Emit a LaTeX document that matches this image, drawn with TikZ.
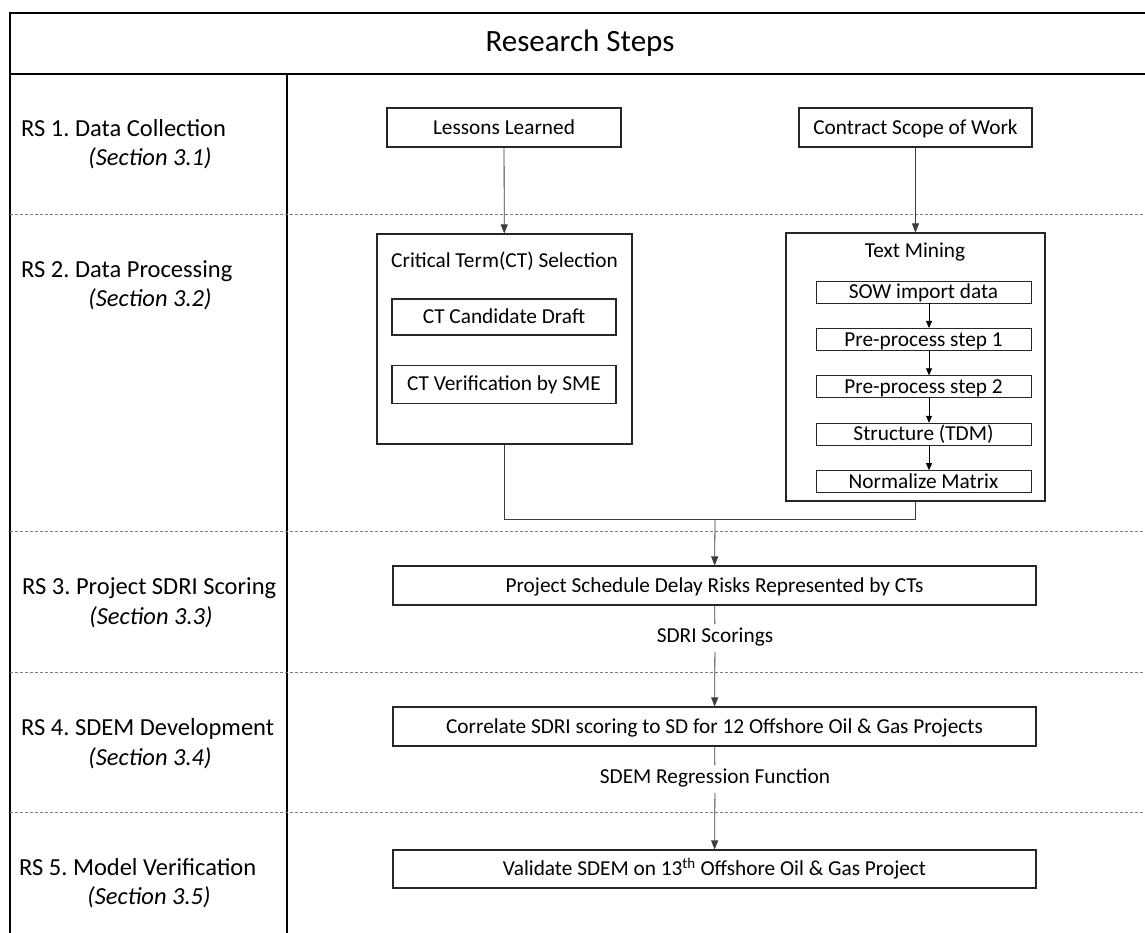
\documentclass[tikz,border=0pt]{standalone}
\usepackage{fontspec}
\setmainfont{Carlito}
\frenchspacing
\usetikzlibrary{arrows.meta, positioning}
\definecolor{linegray}{RGB}{60,60,60}
\definecolor{dashgray}{RGB}{125,125,125}

\begin{document}
\begin{tikzpicture}[
  x=1pt, y=-1pt,
  box/.style={rectangle, draw=black!85, line width=1.1pt, minimum height=39pt, inner sep=0pt, text height=13.5pt, text depth=0pt, font=\fontsize{21.3}{25}\selectfont},
  group/.style={rectangle, draw=black!85, line width=1.1pt, inner sep=0pt},
  subbox/.style={box, line width=0.9pt, minimum width=215pt, minimum height=22pt},
  lbl/.style={inner sep=0pt, font=\fontsize{24.5}{29}\selectfont},
  boxtitle/.style={inner sep=0pt, font=\fontsize{21.3}{25}\selectfont},
  flowlbl/.style={inner sep=5pt, text height=13.5pt, text depth=4pt, font=\fontsize{21.3}{25}\selectfont},
  arrow/.style={-{Triangle[length=9pt, width=7pt]}, line width=0.8pt, linegray},
  smallarrow/.style={-{Triangle[length=7pt, width=6pt]}, line width=0.7pt, black},
  link/.style={line width=0.8pt, linegray},
  rowsep/.style={dashgray, line width=0.7pt, dash pattern=on 3pt off 2pt},
]
\clip (0,0) rectangle (1145,933);

% table frame
\draw[line width=1.6pt] (10,1000) -- (10,13) -- (1200,13);
\draw[line width=1.6pt] (10,74) -- (1200,74);
\draw[line width=1.2pt] (287,74) -- (287,1000);
\foreach \y in {214,531,672,812}
  \draw[rowsep] (10,\y) -- (1145,\y);

\node[inner sep=0pt, font=\fontsize{31}{36}\selectfont, anchor=base] (title) at (580,52) {Research Steps};

% research steps column
\node[lbl, anchor=base west] (rs1) at (21,137) {RS 1. Data Collection};
\node[lbl, anchor=base] (sec1) at (150,166) {\textit{(Section 3.1)}};
\node[lbl, anchor=base west] (rs2) at (21,277) {RS 2. Data Processing};
\node[lbl, anchor=base] (sec2) at (150,306) {\textit{(Section 3.2)}};
\node[lbl, anchor=base west] (rs3) at (22,594) {RS 3. Project SDRI Scoring};
\node[lbl, anchor=base] (sec3) at (151,624) {\textit{(Section 3.3)}};
\node[lbl, anchor=base west] (rs4) at (21,735) {RS 4. SDEM Development};
\node[lbl, anchor=base] (sec4) at (150,765) {\textit{(Section 3.4)}};
\node[lbl, anchor=base west] (rs5) at (19,875) {RS 5. Model Verification};
\node[lbl, anchor=base] (sec5) at (149,904) {\textit{(Section 3.5)}};

% RS 1
\node[box, minimum width=234pt] (lessons) at (504,127.5) {Lessons Learned};
\node[box, minimum width=233pt] (scope) at (915.5,127.5) {Contract Scope of Work};

% RS 2
\node[group, minimum width=255pt, minimum height=210pt] (ctsel) at (504.5,339) {};
\node[boxtitle, anchor=base] (cttitle) at (504.5,268) {Critical Term(CT) Selection};
\node[box, minimum width=224pt, minimum height=36pt] (ctdraft) at (504,317) {CT Candidate Draft};
\node[box, minimum width=224pt, minimum height=38pt, below=29pt of ctdraft] (ctverif) {CT Verification by SME};

\node[group, minimum width=259pt, minimum height=268pt] (tmine) at (915.5,367) {};
\node[boxtitle, anchor=base] (tmtitle) at (915,258) {Text Mining};
\node[subbox] (sow) at (923.5,292) {SOW import data};
\node[subbox, below=24.5pt of sow] (pre1) {Pre-process step 1};
\node[subbox, below=24.5pt of pre1] (pre2) {Pre-process step 2};
\node[subbox, below=24.5pt of pre2] (tdm) {Structure (TDM)};
\node[subbox, below=24.5pt of tdm] (norm) {Normalize Matrix};

% RS 3 - RS 5
\node[box, minimum width=643pt] (risks) at (714.5,585.5) {Project Schedule Delay Risks Represented by CTs};
\node[flowlbl] (scoring) at (715,638) {SDRI Scorings};
\node[box, minimum width=643pt] (correl) at (714.5,726.5) {Correlate SDRI scoring to SD for 12 Offshore Oil \& Gas Projects};
\node[flowlbl] (regfun) at (715,779) {SDEM Regression Function};
\node[box, minimum width=643pt, minimum height=38pt] (valid) at (714.5,869) {Validate SDEM on 13\textsuperscript{th} Offshore Oil \& Gas Project};

\coordinate (merge) at (715,519);

\draw[arrow] (lessons) -- (ctsel); \draw[arrow] (scope) -- (tmine);
\draw[smallarrow] ([xshift=5.5pt]sow.south) -- ([xshift=5.5pt]pre1.north);
\draw[smallarrow] ([xshift=5.5pt]pre1.south) -- ([xshift=5.5pt]pre2.north);
\draw[smallarrow] ([xshift=5.5pt]pre2.south) -- ([xshift=5.5pt]tdm.north);
\draw[smallarrow] ([xshift=5.5pt]tdm.south) -- ([xshift=5.5pt]norm.north);
\draw[link] (ctsel.south) |- (merge); \draw[link] (tmine.south) |- (merge);
\draw[arrow] (merge) -- (risks);
\draw[link] (risks) -- (scoring); \draw[arrow] (scoring) -- (correl);
\draw[link] (correl) -- (regfun); \draw[arrow] (regfun) -- (valid);
\end{tikzpicture}
\end{document}
